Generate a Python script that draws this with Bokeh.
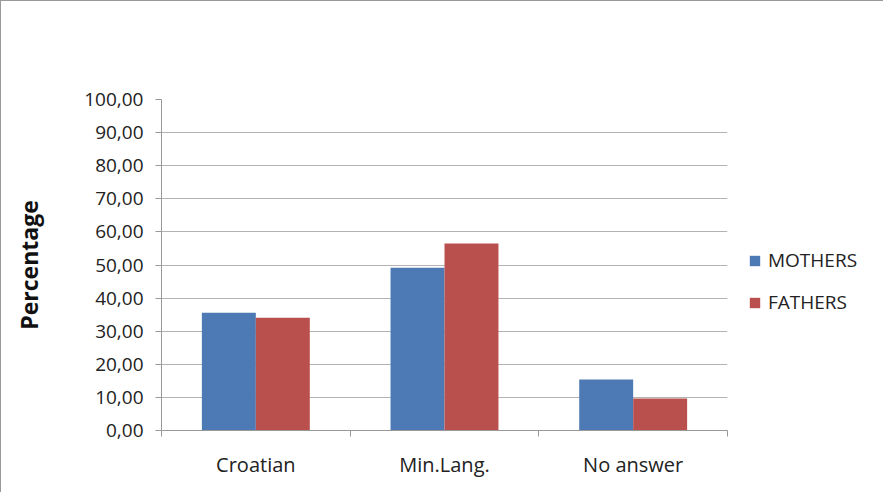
from bokeh.plotting import figure
from bokeh.models import (ColumnDataSource, Range1d, FixedTicker, Legend, LegendItem, LinearAxis, Grid)
from bokeh.transform import dodge
from bokeh.embed import file_html
from bokeh.resources import INLINE

categories = ["Croatian", "Min.Lang.", "No answer"]
mothers = [35.6, 49.2, 15.4]
fathers = [34.1, 56.5, 9.7]
y_ticks = [0, 10, 20, 30, 40, 50, 60, 70, 80, 90, 100]
y_tick_labels = ["0,00", "10,00", "20,00", "30,00", "40,00", "50,00",
                 "60,00", "70,00", "80,00", "90,00", "100,00"]

FONT = "Open Sans"
BLUE = "#4D7AB5"
RED = "#B9504D"

xpos = [i + 0.5 for i in range(len(categories))]
source = ColumnDataSource(dict(x=xpos, cat=categories, mothers=mothers, fathers=fathers))

p = figure(frame_width=566, frame_height=331, output_backend="svg", toolbar_location=None,
           x_range=Range1d(0, len(categories)), y_range=Range1d(0, 100),
           min_border_left=160, min_border_top=98, min_border_right=149, min_border_bottom=62,
           x_axis_type=None, y_axis_type=None)
p.styles = {"border-top": "1px solid #999999", "border-left": "1px solid #999999"}
p.outline_line_color = None
p.background_fill_color = "white"
p.border_fill_color = "white"

bw = 0.286
r1 = p.vbar(x=dodge("x", -bw / 2, range=p.x_range), top="mothers", width=bw, source=source,
            fill_color=BLUE, line_color=None)
r2 = p.vbar(x=dodge("x", bw / 2, range=p.x_range), top="fathers", width=bw, source=source,
            fill_color=RED, line_color=None)

# x axis
xa = LinearAxis(ticker=FixedTicker(ticks=xpos, minor_ticks=list(range(len(categories) + 1))))
xa.major_label_overrides = {x: c for x, c in zip(xpos, categories)}
xa.major_tick_out = 0
xa.major_tick_in = 0
xa.minor_tick_out = 6
xa.minor_tick_in = 0
xa.minor_tick_line_color = "#999999"
xa.axis_line_color = "#999999"
xa.major_label_text_font = FONT
xa.major_label_text_font_size = "20px"
xa.major_label_text_color = "#222222"
xa.major_label_standoff = 14
p.add_layout(xa, "below")

# y axis
ya = LinearAxis(ticker=FixedTicker(ticks=y_ticks, minor_ticks=[]))
ya.major_label_overrides = {t: l for t, l in zip(y_ticks, y_tick_labels)}
ya.major_tick_out = 6
ya.major_tick_in = 0
ya.major_tick_line_color = "#999999"
ya.axis_line_color = "#999999"
ya.major_label_text_font = FONT
ya.major_label_text_font_size = "19px"
ya.major_label_text_color = "#222222"
ya.major_label_standoff = 12
ya.axis_label = "Percentage"
ya.axis_label_text_font = FONT
ya.axis_label_text_font_size = "23px"
ya.axis_label_text_font_style = "bold"
ya.axis_label_text_color = "#111111"
ya.axis_label_standoff = 36
p.add_layout(ya, "left")

g = Grid(dimension=1, ticker=ya.ticker, grid_line_color="#b3b3b3", grid_line_width=1)
p.add_layout(g)

legend = Legend(items=[LegendItem(label="MOTHERS", renderers=[r1]),
                       LegendItem(label="FATHERS", renderers=[r2])],
                location=(21, 115), orientation="vertical",
                border_line_color=None, background_fill_alpha=0,
                padding=0, margin=0, spacing=16, label_standoff=7,
                glyph_width=13, glyph_height=13,
                label_text_font=FONT, label_text_font_size="19px", label_text_color="#222222")
p.add_layout(legend, "right")

open("out.html", "w").write(file_html(p, INLINE))
